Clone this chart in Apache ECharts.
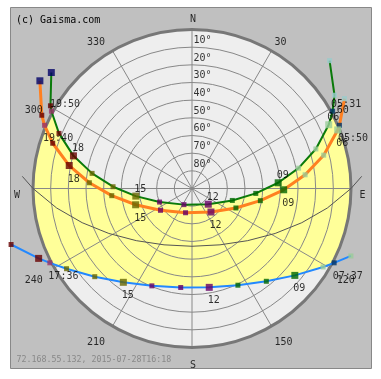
<!DOCTYPE html>
<html><head><meta charset="utf-8">
<script src="https://cdn.jsdelivr.net/npm/echarts@6/dist/echarts.min.js"></script>
<style>html,body{margin:0;padding:0;background:#fff}#c{width:381px;height:379px}</style>
</head><body><div id="c"></div>
<script>
// June 21 (summer solstice) sun path: time, azimuth (deg from N), elevation (deg)
const junTime = ['04:00','05:00','05:31','06:00','07:00','08:00','09:00','10:00','11:00','12:00','13:00','14:00','15:00','16:00','17:00','18:00','19:00','19:50','20:00','21:00'];
const junAz = [47.1,56.8,61.2,65.0,72.3,79.2,86.2,94.4,106.5,134.0,206.5,247.3,262.3,271.3,278.6,285.4,292.5,298.8,300.3,309.5];
const junEl = [-16.3,-6.4,-0.8,4.6,16.4,28.6,41.1,53.8,66.2,77.2,79.8,70.1,57.9,45.3,32.8,20.4,8.5,-0.8,-2.8,-13.2];

// July 28 (today) sun path
const julTime = ['05:00','05:50','06:00','07:00','08:00','09:00','10:00','11:00','12:00','13:00','14:00','15:00','16:00','17:00','18:00','19:00','19:40','20:00','21:00'];
const julAz = [59.5,66.8,68.1,75.8,83.1,90.8,100.1,113.9,141.1,194.9,235.3,253.9,264.9,273.2,280.6,288.0,293.2,296.0,305.3];
const julEl = [-10.2,-0.8,1.1,13.1,25.5,38.1,50.7,62.8,72.9,75.8,68.3,56.8,44.4,31.8,19.3,7.1,-0.8,-4.6,-15.5];

// December 21 (winter solstice) sun path
const decTime = ['07:00','07:37','08:00','09:00','10:00','11:00','12:00','13:00','14:00','15:00','16:00','17:00','17:36','18:00','19:00'];
const decAz = [113.0,117.6,120.9,130.2,141.3,154.6,170.1,186.5,202.4,216.2,227.8,237.4,242.4,245.5,252.8];
const decEl = [-7.7,-0.8,3.5,13.8,22.7,29.4,33.2,33.6,30.4,24.2,15.7,5.7,-0.8,-5.4,-17.2];

// Equinox path
const eqAz = [85.9,90,98.2,107.3,118.4,133.1,153.6,180,206.4,226.9,241.6,252.7,261.8,270,274.1];
const eqEl = [-6.3,0,12.6,24.9,36.5,46.8,54.4,57.3,54.4,46.8,36.5,24.9,12.6,0,-6.3];

// Tick labels
const azTicks = [0,30,60,90,120,150,180,210,240,270,300,330];
const azLabels = ['N','30','60','E','120','150','S','210','240','W','300','330'];
const elTicks = [10,20,30,40,50,60,70,80];

const MONO = 'DejaVu Sans Mono';
const CENTER = [192, 188.5], RADIUS = 159;

function markerColor(h, isEvent) {
  if (isEvent) return h < 12 ? '#003366' : '#993366';
  if (h <= 5) return '#99cccc';
  if (h <= 8) return '#99cc99';
  if (h <= 11) return '#006600';
  if (h <= 14) return '#660066';
  if (h <= 17) return '#666600';
  if (h <= 20) return '#660000';
  return '#000066';
}

function pathSeries(az, el, color, width, z) {
  return {type:'custom', coordinateSystem:'polar', polarIndex:0, clip:false, z:z, silent:true, animation:false,
    data:[[0,0]],
    renderItem:function(params, api){
      return {type:'polyline', shape:{points: el.map((e,i)=>api.coord([e, az[i]]))},
        style:{stroke:color, lineWidth:width, fill:null, lineJoin:'round'}};
    }};
}

function markerSeries(times, az, el, above) {
  return {type:'scatter', coordinateSystem:'polar', polarIndex:0, clip:false, z:7, silent:true,
    symbol:'rect', animation:false,
    data: times.map((t,i)=>{
      const h = parseInt(t.slice(0,2),10);
      const isEvent = t.slice(3) !== '00';
      const big = !isEvent && h % 3 === 0;
      const show = isEvent || (big && el[i] > 0);
      return {value:[el[i], az[i]], symbolSize: big ? 7 : 5,
        itemStyle:{color: markerColor(h, isEvent)},
        label:{show: show, formatter: isEvent ? t : t.slice(0,2), position:'inside',
          align:'left', verticalAlign:'middle', offset:[-1.5, above ? -7 : 13.5],
          color:'#000', fontFamily:MONO, fontSize:10}};
    })};
}

function riseSetIdx(el) {
  let a = el.findIndex(e => e > -1);
  let b = el.length - 1; while (el[b] <= -1) b--;
  return [a, b];
}

const chart = echarts.init(document.getElementById('c'), null, {renderer:'canvas'});
const option = {
  backgroundColor:'#ffffff',
  animation:false,
  graphic:[
    {type:'rect', z:-10, shape:{x:10.5, y:7.5, width:361, height:361}, style:{fill:'#c0c0c0', stroke:'#888888', lineWidth:1}},
    {type:'text', z:10, x:16, y:15.5, style:{text:'(c) Gaisma.com', fill:'#000', font:'10px "DejaVu Sans Mono"', textVerticalAlign:'top'}},
    {type:'text', z:10, x:16.5, y:356, style:{text:'72.168.55.132, 2015-07-28T16:18', fill:'#888', font:'8.3px "DejaVu Sans Mono"', textVerticalAlign:'top'}}
  ],
  polar:[{center:CENTER, radius:RADIUS},{center:CENTER, radius:RADIUS}],
  angleAxis:[
    {polarIndex:0, type:'value', min:0, max:360, interval:30, startAngle:90, clockwise:true, z:0,
      axisLine:{show:false}, axisTick:{show:false}, axisLabel:{show:false}, splitLine:{show:false}},
    {polarIndex:1, type:'value', min:0, max:360, interval:30, startAngle:90, clockwise:true, z:3,
      axisLine:{show:true, lineStyle:{color:'#777777', width:3}}, axisTick:{show:false}, axisLabel:{show:false},
      splitLine:{show:true, lineStyle:{color:'#888888', width:1}}}
  ],
  radiusAxis:[
    {polarIndex:0, type:'value', min:0, max:90, interval:10, inverse:true, z:0,
      axisLine:{show:false}, axisTick:{show:false}, axisLabel:{show:false}, splitLine:{show:false},
      splitArea:{show:true, areaStyle:{color:['#eeeeee']}}},
    {polarIndex:1, type:'value', min:0, max:90, interval:10, inverse:true, z:3,
      axisLine:{show:false}, axisTick:{show:false}, axisLabel:{show:false},
      splitLine:{show:true, lineStyle:{color:'#888888', width:1}}}
  ],
  series:[
    {type:'custom', coordinateSystem:'polar', polarIndex:0, z:1, silent:true, clip:false, animation:false,
      data:[[0,0]],
      renderItem:function(params, api){
        const pts = [];
        const [g0, g1] = riseSetIdx(junEl);
        const [b0, b1] = riseSetIdx(decEl);
        for (let i = g0; i <= g1; i++) pts.push(api.coord([junEl[i], junAz[i]]));
        for (let a = junAz[g1]; a > decAz[b1]; a -= 1) pts.push(api.coord([0, a]));
        for (let i = b1; i >= b0; i--) pts.push(api.coord([decEl[i], decAz[i]]));
        for (let a = decAz[b0]; a > junAz[g0]; a -= 1) pts.push(api.coord([0, a]));
        return {type:'polygon', shape:{points:pts}, style:{fill:'#ffff99', stroke:null}};
      }},
    pathSeries(eqAz, eqEl, '#555555', 1, 4),
    pathSeries(junAz, junEl, '#0a7a0a', 2, 5),
    pathSeries(julAz, julEl, '#ff8020', 3, 5),
    pathSeries(decAz, decEl, '#2288ff', 2, 5),
    markerSeries(junTime, junAz, junEl, true),
    markerSeries(julTime, julAz, julEl, false),
    markerSeries(decTime, decAz, decEl, false),
    {type:'scatter', coordinateSystem:'polar', polarIndex:0, clip:false, z:8, silent:true, symbolSize:0, animation:false,
      data: elTicks.map(v=>({value:[v, 0], label:{show:true, formatter: v + '°', position:'inside', align:'left', verticalAlign:'middle', offset:[1.5,-6.8], color:'#000', fontFamily:MONO, fontSize:10}}))},
    {type:'scatter', coordinateSystem:'polar', polarIndex:0, clip:false, z:8, silent:true, symbolSize:0, animation:false,
      data: azTicks.map((a,i)=>{
        const side = (a === 0 || a === 180) ? 'center' : (a < 180 ? 'left' : 'right');
        const dx = side === 'center' ? 1 : (side === 'left' ? -2.5 : -2);
        const dy = (a <= 30 || a >= 330) ? 1 : 6.5;
        return {value:[-6.2, a], label:{show:true, formatter: azLabels[i], position:'inside', align:side, verticalAlign:'middle', offset:[dx, dy], color:'#000', fontFamily:MONO, fontSize:10}};
      })}
  ]
};
chart.setOption(option);
</script>
</body></html>
